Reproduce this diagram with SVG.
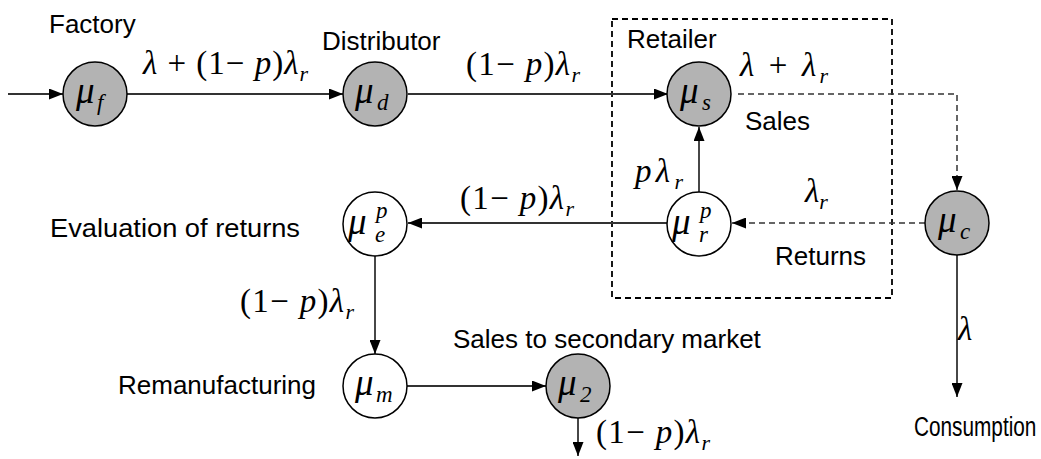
<svg xmlns="http://www.w3.org/2000/svg" width="1041" height="459" viewBox="0 0 1041 459">
<defs>
<marker id="ah" viewBox="0 0 14 11" refX="14" refY="5.5" markerWidth="14" markerHeight="11" markerUnits="userSpaceOnUse" orient="auto">
<path d="M0,0 L14,5.5 L0,11 Z" fill="#000"/>
</marker>
<style>
.lbl{font-family:"Liberation Sans",Arial,sans-serif;font-size:26px;fill:#000}
.m{font-family:"Liberation Serif","Times New Roman",serif;font-size:33px;fill:#000}
.i{font-style:italic}
.sub{font-style:italic;font-size:22px}
.mu{font-family:"Liberation Serif","Times New Roman",serif;font-style:italic;font-size:37px;fill:#000}
.ms{font-family:"Liberation Serif","Times New Roman",serif;font-style:italic;font-size:23px;fill:#000}
.g{fill:#b3b3b3;stroke:#000;stroke-width:1.5}
.w{fill:#fff;stroke:#000;stroke-width:1.5}
.c{fill:none;stroke:#333;stroke-width:1.8;marker-end:url(#ah)}
.d{fill:none;stroke:#333;stroke-width:1.5;stroke-dasharray:6 4;marker-end:url(#ah)}
.box{fill:none;stroke:#000;stroke-width:1.8;stroke-dasharray:6 4}
</style>
</defs>
<rect width="1041" height="459" fill="#fff"/>
<rect class="box" x="612" y="19" width="280" height="279"/>
<g id="connectors">
<line class="c" x1="8" y1="94" x2="63" y2="94"/>
<line class="c" x1="127" y1="94" x2="343" y2="94"/>
<line class="c" x1="408" y1="94" x2="668" y2="94"/>
<path class="d" d="M738,94 H957 V190"/>
<line class="d" x1="925" y1="223" x2="732" y2="223"/>
<line class="c" x1="699" y1="192" x2="699" y2="127"/>
<line class="c" x1="667" y1="223" x2="408" y2="223"/>
<line class="c" x1="375" y1="256" x2="375" y2="354"/>
<line class="c" x1="407" y1="386" x2="546" y2="386"/>
<line class="c" x1="578" y1="418" x2="578" y2="456"/>
<line class="c" x1="957" y1="255" x2="957" y2="397"/>
<text class="m" x="143" y="74" textLength="165" lengthAdjust="spacing"><tspan class="i">λ</tspan> + (1− <tspan class="i">p</tspan>)<tspan class="i">λ</tspan><tspan class="sub" dy="7">r</tspan></text>
<text class="m" x="466" y="75" textLength="114" lengthAdjust="spacing">(1− <tspan class="i">p</tspan>)<tspan class="i">λ</tspan><tspan class="sub" dy="7">r</tspan></text>
<text class="m" x="740" y="76" textLength="88" lengthAdjust="spacing"><tspan class="i">λ</tspan> + <tspan class="i">λ</tspan><tspan class="sub" dy="7">r</tspan></text>
<text class="m" x="635" y="182" textLength="48" lengthAdjust="spacing"><tspan class="i">pλ</tspan><tspan class="sub" dy="7">r</tspan></text>
<text class="m" x="460" y="209" textLength="114" lengthAdjust="spacing">(1− <tspan class="i">p</tspan>)<tspan class="i">λ</tspan><tspan class="sub" dy="7">r</tspan></text>
<text class="m" x="805" y="202"><tspan class="i">λ</tspan><tspan class="sub" dy="7">r</tspan></text>
<text class="m" x="240" y="312" textLength="114" lengthAdjust="spacing">(1− <tspan class="i">p</tspan>)<tspan class="i">λ</tspan><tspan class="sub" dy="7">r</tspan></text>
<text class="m" x="958" y="340"><tspan class="i">λ</tspan></text>
<text class="m" x="596" y="443" textLength="114" lengthAdjust="spacing">(1− <tspan class="i">p</tspan>)<tspan class="i">λ</tspan><tspan class="sub" dy="7">r</tspan></text>
<text class="lbl" x="745" y="130">Sales</text>
<text class="lbl" x="775" y="265">Returns</text>
</g>
<g id="factory">
<circle class="g" cx="95" cy="94" r="32"/>
<text class="mu" x="76" y="103">μ</text><text class="ms" x="97" y="110">f</text>
<text class="lbl" x="49" y="33">Factory</text>
</g>
<g id="distributor">
<circle class="g" cx="375" cy="94" r="32"/>
<text class="mu" x="355" y="103">μ</text><text class="ms" x="377" y="110">d</text>
<text class="lbl" x="322" y="50">Distributor</text>
</g>
<g id="retailer">
<text class="lbl" x="627" y="48">Retailer</text>
</g>
<g id="sales">
<circle class="g" cx="699" cy="94" r="32"/>
<text class="mu" x="680" y="103">μ</text><text class="ms" x="702" y="110">s</text>
</g>
<g id="returns">
<circle class="w" cx="699" cy="224" r="32"/>
<text class="mu" x="672" y="234">μ</text><text class="ms" x="700" y="218">p</text><text class="ms" x="699" y="242">r</text>
</g>
<g id="consumer">
<circle class="g" cx="957" cy="223" r="32"/>
<text class="mu" x="938" y="232">μ</text><text class="ms" x="960" y="239">c</text>
<text class="lbl" transform="translate(914,436) scale(0.77,1)" x="0" y="0" style="font-size:27px">Consumption</text>
</g>
<g id="evaluation">
<circle class="w" cx="375" cy="224" r="32"/>
<text class="mu" x="348" y="234">μ</text><text class="ms" x="376" y="218">p</text><text class="ms" x="375" y="242">e</text>
<text class="lbl" x="50" y="237" textLength="250" lengthAdjust="spacingAndGlyphs">Evaluation of returns</text>
</g>
<g id="remanufacturing">
<circle class="w" cx="375" cy="386" r="32"/>
<text class="mu" x="355" y="395">μ</text><text class="ms" x="376" y="402">m</text>
<text class="lbl" x="118" y="394">Remanufacturing</text>
</g>
<g id="secondary">
<circle class="g" cx="578" cy="386" r="32"/>
<text class="mu" x="558" y="395">μ</text><text class="ms" x="580" y="402" font-style="normal">2</text>
<text class="lbl" x="453" y="348">Sales to secondary market</text>
</g>
</svg>
